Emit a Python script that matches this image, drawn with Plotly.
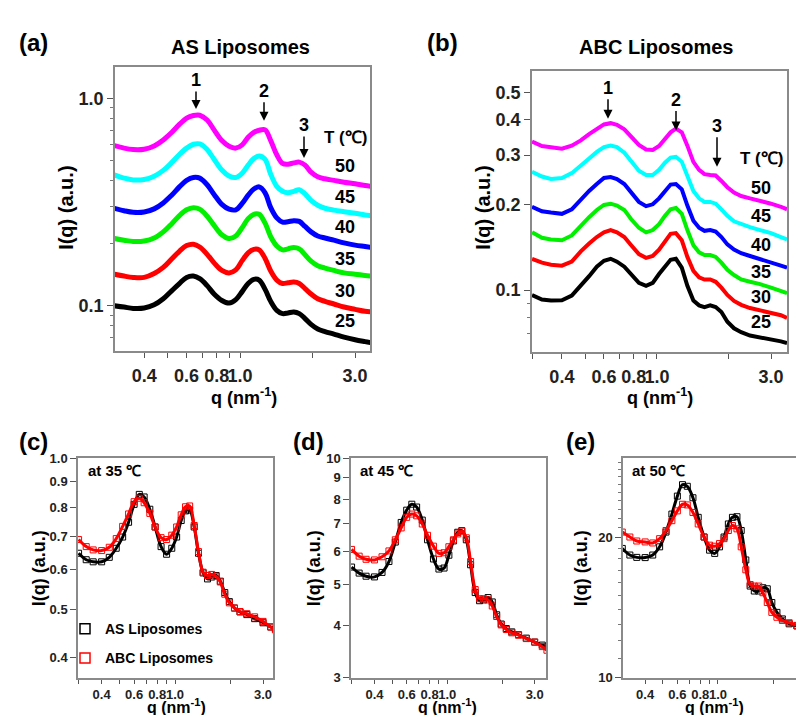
import plotly.graph_objects as go

# ---------------- data ----------------
q = [0.30, 0.33, 0.36, 0.40, 0.44, 0.48, 0.52, 0.56, 0.60, 0.64, 0.68, 0.73,
     0.78, 0.84, 0.90, 0.96, 1.02, 1.08, 1.14, 1.20, 1.27, 1.34, 1.42, 1.50,
     1.58, 1.67, 1.76, 1.86, 1.97, 2.10, 2.25, 2.45, 2.70, 3.00, 3.30, 3.50]

temps = ["25", "30", "35", "40", "45", "50"]

# (a) AS liposomes
a25 = [0.100, 0.0986, 0.0971, 0.0975, 0.101, 0.108, 0.118, 0.128, 0.137, 0.139, 0.135, 0.125,
       0.114, 0.106, 0.103, 0.107, 0.117, 0.128, 0.134, 0.133, 0.120, 0.105, 0.0951, 0.0917,
       0.0923, 0.0934, 0.0917, 0.0868, 0.0814, 0.0773, 0.0751, 0.0730, 0.0706, 0.0686, 0.0672, 0.0664]
a30 = [0.142, 0.139, 0.137, 0.137, 0.143, 0.153, 0.168, 0.183, 0.195, 0.198, 0.192, 0.177,
       0.161, 0.148, 0.144, 0.149, 0.165, 0.180, 0.187, 0.186, 0.169, 0.147, 0.133, 0.128,
       0.129, 0.130, 0.128, 0.121, 0.114, 0.108, 0.105, 0.102, 0.0986, 0.0961, 0.0940, 0.0934]
a35 = [0.211, 0.207, 0.204, 0.205, 0.212, 0.227, 0.248, 0.272, 0.290, 0.297, 0.292, 0.270,
       0.244, 0.220, 0.211, 0.217, 0.238, 0.263, 0.276, 0.276, 0.250, 0.215, 0.194, 0.186,
       0.188, 0.191, 0.188, 0.176, 0.164, 0.156, 0.152, 0.148, 0.144, 0.142, 0.140, 0.139]
a40 = [0.295, 0.287, 0.282, 0.283, 0.293, 0.313, 0.341, 0.374, 0.402, 0.415, 0.412, 0.383,
       0.344, 0.308, 0.292, 0.290, 0.311, 0.341, 0.365, 0.374, 0.350, 0.297, 0.265, 0.253,
       0.254, 0.257, 0.255, 0.241, 0.227, 0.217, 0.212, 0.207, 0.201, 0.196, 0.193, 0.191]
a45 = [0.427, 0.412, 0.404, 0.406, 0.421, 0.449, 0.490, 0.536, 0.575, 0.600, 0.602, 0.566,
       0.508, 0.451, 0.422, 0.415, 0.435, 0.476, 0.512, 0.527, 0.508, 0.430, 0.376, 0.356,
       0.350, 0.356, 0.362, 0.346, 0.322, 0.305, 0.295, 0.289, 0.284, 0.279, 0.274, 0.272]
a50 = [0.592, 0.575, 0.566, 0.568, 0.589, 0.629, 0.684, 0.748, 0.802, 0.825, 0.828, 0.785,
       0.704, 0.625, 0.587, 0.575, 0.596, 0.648, 0.684, 0.701, 0.704, 0.625, 0.534, 0.485,
       0.481, 0.488, 0.492, 0.476, 0.440, 0.418, 0.409, 0.402, 0.394, 0.387, 0.380, 0.376]

# (b) ABC liposomes
b25 = [0.0961, 0.0926, 0.0919, 0.0921, 0.0956, 0.1035, 0.112, 0.121, 0.127, 0.129, 0.126, 0.121,
       0.114, 0.106, 0.1035, 0.106, 0.114, 0.121, 0.128, 0.129, 0.120, 0.1035, 0.0919, 0.0883,
       0.0871, 0.0883, 0.0871, 0.0837, 0.0773, 0.0733, 0.0710, 0.0691, 0.0680, 0.0673, 0.0659, 0.0650]
b30 = [0.129, 0.125, 0.123, 0.122, 0.126, 0.137, 0.146, 0.154, 0.160, 0.163, 0.160, 0.154,
       0.144, 0.134, 0.130, 0.132, 0.139, 0.149, 0.158, 0.159, 0.150, 0.131, 0.117, 0.111,
       0.109, 0.109, 0.107, 0.102, 0.0961, 0.0916, 0.0887, 0.0864, 0.0848, 0.0833, 0.0815, 0.0798]
b35 = [0.160, 0.153, 0.151, 0.150, 0.156, 0.169, 0.181, 0.192, 0.200, 0.202, 0.199, 0.192,
       0.178, 0.166, 0.160, 0.163, 0.171, 0.183, 0.193, 0.195, 0.186, 0.163, 0.144, 0.136,
       0.133, 0.133, 0.131, 0.125, 0.118, 0.113, 0.109, 0.107, 0.105, 0.102, 0.0992, 0.0976]
b40 = [0.197, 0.190, 0.188, 0.186, 0.193, 0.209, 0.224, 0.237, 0.249, 0.251, 0.247, 0.237,
       0.221, 0.205, 0.198, 0.201, 0.211, 0.225, 0.236, 0.237, 0.227, 0.199, 0.176, 0.166,
       0.162, 0.163, 0.161, 0.154, 0.145, 0.139, 0.135, 0.132, 0.129, 0.125, 0.122, 0.120]
b45 = [0.262, 0.252, 0.247, 0.249, 0.259, 0.277, 0.292, 0.308, 0.320, 0.324, 0.320, 0.306,
       0.284, 0.264, 0.255, 0.255, 0.266, 0.282, 0.294, 0.296, 0.284, 0.252, 0.224, 0.211,
       0.205, 0.205, 0.202, 0.193, 0.183, 0.175, 0.171, 0.167, 0.163, 0.159, 0.154, 0.151]
b50 = [0.335, 0.323, 0.320, 0.316, 0.324, 0.338, 0.356, 0.372, 0.385, 0.389, 0.384, 0.370,
       0.349, 0.326, 0.314, 0.313, 0.323, 0.342, 0.361, 0.372, 0.361, 0.324, 0.284, 0.266,
       0.257, 0.255, 0.254, 0.243, 0.231, 0.221, 0.215, 0.211, 0.207, 0.202, 0.197, 0.193]

# (c) 35 C
c_as = [0.647, 0.628, 0.622, 0.622, 0.635, 0.662, 0.697, 0.746, 0.810, 0.848, 0.838, 0.792,
        0.730, 0.667, 0.644, 0.662, 0.697, 0.752, 0.786, 0.789, 0.730, 0.647, 0.591, 0.575,
        0.580, 0.584, 0.569, 0.540, 0.518, 0.503, 0.494, 0.488, 0.479, 0.470, 0.461, 0.457]
c_abc = [0.689, 0.667, 0.657, 0.655, 0.665, 0.692, 0.732, 0.775, 0.820, 0.833, 0.816, 0.777,
         0.730, 0.695, 0.689, 0.703, 0.730, 0.772, 0.801, 0.804, 0.735, 0.652, 0.593, 0.584,
         0.587, 0.582, 0.567, 0.536, 0.515, 0.503, 0.495, 0.490, 0.483, 0.473, 0.461, 0.455]
# (d) 45 C
d_as = [5.51, 5.33, 5.24, 5.22, 5.35, 5.68, 6.32, 7.04, 7.53, 7.78, 7.66, 7.13,
        6.40, 5.76, 5.45, 5.48, 5.88, 6.36, 6.67, 6.73, 6.40, 5.58, 4.79, 4.58,
        4.60, 4.66, 4.55, 4.24, 4.03, 3.93, 3.86, 3.80, 3.73, 3.65, 3.59, 3.56]
d_abc = [6.07, 5.85, 5.75, 5.73, 5.83, 6.02, 6.40, 6.83, 7.24, 7.37, 7.30, 6.98,
         6.56, 6.18, 5.94, 5.96, 6.16, 6.40, 6.61, 6.71, 6.47, 5.68, 4.87, 4.63,
         4.63, 4.60, 4.45, 4.20, 4.01, 3.91, 3.84, 3.79, 3.72, 3.65, 3.56, 3.49]
# (e) 50 C
e_as = [18.96, 18.35, 18.14, 18.12, 18.35, 19.11, 20.56, 22.47, 24.56, 25.99, 25.78, 24.36,
        22.11, 20.06, 18.80, 18.50, 19.11, 20.06, 21.40, 22.11, 22.18, 20.72, 17.91, 15.74,
        15.36, 15.36, 15.61, 15.53, 14.51, 13.82, 13.38, 13.06, 12.92, 12.65, 12.38, 12.24]
e_abc = [20.56, 20.06, 19.67, 19.58, 19.48, 19.90, 20.72, 21.75, 22.83, 23.59, 23.51, 22.65,
         21.40, 20.06, 19.27, 19.17, 19.42, 19.90, 20.72, 21.23, 20.89, 19.11, 17.06, 15.86,
         15.74, 15.74, 15.23, 14.51, 13.82, 13.49, 13.28, 13.13, 12.96, 12.65, 12.34, 12.14]

x_tickvals = [0.3, 0.4, 0.5, 0.6, 0.7, 0.8, 0.9, 1.0, 2.0, 3.0]
x_ticktext = ["", "0.4", "", "0.6", "", "0.8", "", "1.0", "", "3.0"]

ya_vals, ya_text = [0.1, 1.0], ["0.1", "1.0"]
yb_vals, yb_text = [0.1, 0.2, 0.3, 0.4, 0.5], ["0.1", "0.2", "0.3", "0.4", "0.5"]
yc_vals, yc_text = [0.4, 0.5, 0.6, 0.7, 0.8, 0.9, 1.0], ["0.4", "0.5", "0.6", "0.7", "0.8", "0.9", "1.0"]
yd_vals, yd_text = [3, 4, 5, 6, 7, 8, 9, 10], ["3", "4", "5", "6", "7", "8", "9", "10"]
ye_vals, ye_text = [10, 20], ["10", "20"]

# ---------------- figure ----------------
W, H = 804, 715
FONT = "Arial, 'Liberation Sans', sans-serif"
colors = ["#000000", "#ff0000", "#00f000", "#0000ff", "#00ffff", "#ff00ff"]
FRAME = "#8a8a8a"


def px(xp):
    return xp / W


def py(yp):
    return 1 - yp / H


fig = go.Figure()


def add_axes(n, xl, xr_, yt, yb, xrange, yrange, yvals, ytext, yminor, fs_tick, standoff,
             xticklen=5, mirror_y=True):
    xa = dict(type="log", domain=[px(xl), min(1.0, px(xr_))], range=xrange, anchor=f"y{n}",
              tickmode="array", tickvals=x_tickvals, ticktext=x_ticktext, tickangle=0,
              ticks="outside", ticklen=xticklen, tickwidth=1, tickcolor="#555",
              showline=True, linecolor=FRAME, linewidth=1.5, mirror=True,
              showgrid=False, zeroline=False, ticklabelstandoff=standoff,
              tickfont=dict(family=FONT, size=fs_tick, color="#222", weight="bold"))
    ya = dict(type="log", domain=[py(yb), py(yt)], range=yrange, anchor=f"x{n}",
              tickmode="array", tickvals=yvals, ticktext=ytext,
              ticks="outside", ticklen=6, tickwidth=1, tickcolor="#555",
              showline=True, linecolor=FRAME, linewidth=1.5, mirror=mirror_y,
              showgrid=False, zeroline=False,
              tickfont=dict(family=FONT, size=fs_tick, color="#222", weight="bold"),
              minor=dict(tickvals=yminor, ticks="outside", ticklen=3, tickwidth=1, tickcolor="#777"))
    key = "" if n == 1 else str(n)
    fig.update_layout(**{f"xaxis{key}": xa, f"yaxis{key}": ya})


add_axes(1, 107, 362, 53, 343, [-0.519, 0.539], [-1.217, 0.151], ya_vals, ya_text,
         [0.07, 0.08, 0.09, 0.2, 0.3, 0.4, 0.5, 0.6, 0.7, 0.8, 0.9], 18, 3)
add_axes(2, 524, 779, 57, 344, [-0.523, 0.544], [-1.218, -0.225], yb_vals, yb_text,
         [0.07, 0.08, 0.09], 18, 3)
add_axes(3, 70, 265, 453, 677, [-0.526, 0.531], [-0.4377, 0.0], yc_vals, yc_text,
         [], 13, 0, xticklen=4)
add_axes(4, 343, 538, 453, 677, [-0.526, 0.539], [0.4771, 1.0], yd_vals, yd_text,
         [], 13, 0, xticklen=4)
add_axes(5, 615, 804, 453, 677, [-0.519, 0.514], [1.0, 1.471], ye_vals, ye_text,
         [11, 12, 13, 14, 15, 16, 17, 18, 19, 21, 22, 23, 24, 25, 26, 27, 28, 29], 13, 0,
         xticklen=4, mirror_y=False)

for ys, col in zip([a25, a30, a35, a40, a45, a50], colors):
    fig.add_trace(go.Scatter(x=q, y=ys, mode="lines", line=dict(color=col, width=5, shape="spline"),
                             xaxis="x", yaxis="y", showlegend=False))
for ys, col in zip([b25, b30, b35, b40, b45, b50], colors):
    fig.add_trace(go.Scatter(x=q, y=ys, mode="lines", line=dict(color=col, width=4),
                             xaxis="x2", yaxis="y2", showlegend=False))

for n, (ys_as, ys_abc) in zip([3, 4, 5], [(c_as, c_abc), (d_as, d_abc), (e_as, e_abc)]):
    for ys, col in [(ys_as, "#000000"), (ys_abc, "#ff0000")]:
        fig.add_trace(go.Scatter(x=q, y=ys, mode="lines+markers",
                                 line=dict(color=col, width=3, shape="spline"),
                                 marker=dict(symbol="square-open", size=6, color=col, line=dict(width=1)),
                                 xaxis=f"x{n}", yaxis=f"y{n}", showlegend=False))

# legend entries
for name, col, grp in [("AS Liposomes", "#000000", "g1"), ("ABC Liposomes", "#ff0000", "g2")]:
    fig.add_trace(go.Scatter(x=[None], y=[None], mode="markers", name=name, legendgroup=grp,
                             marker=dict(symbol="square-open", size=10, color=col, line=dict(width=1.5)),
                             xaxis="x3", yaxis="y3", showlegend=True))

ann = []


def text(xp, yp, s, size, angle=0, color="black"):
    ann.append(dict(x=px(xp), y=py(yp), xref="paper", yref="paper", text=s, showarrow=False,
                    textangle=angle, xanchor="center", yanchor="middle",
                    font=dict(family=FONT, size=size, color=color, weight="bold")))


def arrow(xp, yhead, ytext, s):
    ann.append(dict(x=px(xp), y=py(yhead), xref="paper", yref="paper", text=s, showarrow=True,
                    ax=0, ay=ytext - yhead, arrowhead=2, arrowsize=1.2, arrowwidth=1.5,
                    arrowcolor="black", standoff=0, startstandoff=0,
                    font=dict(family=FONT, size=18, color="black", weight="bold")))


# panel labels and titles
text(25, 28, "(a)", 24)
text(435, 28, "(b)", 24)
text(25, 436, "(c)", 24)
text(300, 436, "(d)", 24)
text(572, 436, "(e)", 24)
text(232, 33, "AS Liposomes", 20)
text(648, 33, "ABC Liposomes", 20)

# axis titles
for xp, yp in [(58, 197), (475, 197)]:
    text(xp, yp, "I(q) (a.u.)", 20, angle=-90)
for xp, yp in [(31, 565), (306, 565), (573, 565)]:
    text(xp, yp, "I(q) (a.u.)", 18, angle=-90)
for xp in [236, 652]:
    text(xp, 390, "q (nm<sup>-1</sup>)", 18)
for xp in [168, 440, 706]:
    text(xp, 706, "q (nm<sup>-1</sup>)", 16)

# peak arrows
arrow(188, 96, 67, "1")
arrow(256, 108, 78, "2")
arrow(296, 146, 113, "3")
arrow(600, 106, 75, "1")
arrow(668, 118, 87, "2")
arrow(709, 155, 114, "3")

# temperature labels
text(337, 125, "T (℃)", 17)
text(753, 147, "T (℃)", 17)
for t, yp in zip(temps[::-1], [154, 186, 217, 249, 282, 313]):
    text(337, yp, t, 18)
for t, yp in zip(temps[::-1], [177, 205, 235, 263, 288, 314]):
    text(753, yp, t, 18)

text(106, 465, "at 35 ℃", 15)
text(378, 465, "at 45 ℃", 15)
text(650, 465, "at 50 ℃", 15)

fig.update_layout(
    width=W, height=H, margin=dict(l=0, r=0, t=0, b=0),
    paper_bgcolor="white", plot_bgcolor="white",
    annotations=ann,
    showlegend=True,
    legend=dict(x=px(57), y=py(611), xanchor="left", yanchor="top", bgcolor="rgba(0,0,0,0)",
                font=dict(family=FONT, size=14, color="black", weight="bold"),
                tracegroupgap=8, itemwidth=30),
    font=dict(family=FONT),
)

fig.write_html("out.html")
